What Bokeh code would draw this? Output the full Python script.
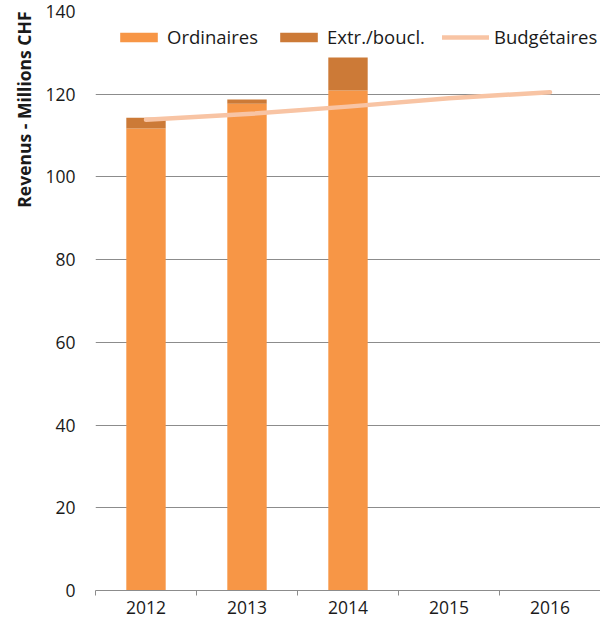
from bokeh.plotting import figure
from bokeh.models import Range1d, FixedTicker, Legend, LegendItem, Title
from bokeh.embed import file_html
from bokeh.resources import INLINE

years = ["2012", "2013", "2014", "2015", "2016"]
bar_years = ["2012", "2013", "2014"]
ordinaires = [111.7, 117.7, 120.9]
extr_boucl = [2.6, 1.0, 8.0]
budgetaires = [113.8, 115.2, 117.0, 119.0, 120.5]
y_ticks = [0, 20, 40, 60, 80, 100, 120, 140]

FONT = "Open Sans"
C_ORD = "#F79646"
C_EXT = "#CC7A37"
C_BUD = "#F8C4A4"
C_GRID = "#8C8C8C"
C_TXT = "#1a1a1a"

xpos = {y: i + 0.5 for i, y in enumerate(years)}
bx = [xpos[y] for y in bar_years]
lx = [xpos[y] for y in years]
ext_top = [o + e for o, e in zip(ordinaires, extr_boucl)]

p = figure(width=600, height=619, output_backend="svg", toolbar_location=None,
           x_range=Range1d(0, len(years)), y_range=Range1d(0, 140),
           min_border_left=95, min_border_right=0, min_border_top=11, min_border_bottom=29)
p.outline_line_color = None
p.background_fill_color = "white"

r1 = p.vbar(x=bx, bottom=0, top=ordinaires, width=0.39, fill_color=C_ORD, line_color=None)
r2 = p.vbar(x=bx, bottom=ordinaires, top=ext_top, width=0.39, fill_color=C_EXT, line_color=None)
r3 = p.line(x=lx, y=budgetaires, line_color=C_BUD, line_width=4.5, line_cap="round", line_join="round")

# x axis
xa = p.xaxis[0]
xa.ticker = FixedTicker(ticks=lx, minor_ticks=list(range(len(years) + 1)))
xa.major_label_overrides = {xpos[y]: y for y in years}
xa.major_tick_line_color = None
xa.major_tick_out = 0
xa.major_tick_in = 0
xa.minor_tick_out = 5
xa.minor_tick_in = 0
xa.minor_tick_line_color = C_GRID
xa.axis_line_color = C_GRID
xa.major_label_text_font = FONT
xa.major_label_text_font_size = "17.5px"
xa.major_label_text_color = C_TXT
xa.major_label_standoff = 5
p.xgrid.grid_line_color = None

# y axis
ya = p.yaxis[0]
ya.ticker = FixedTicker(ticks=y_ticks)
ya.axis_line_color = None
ya.major_tick_line_color = None
ya.major_tick_out = 0
ya.major_tick_in = 0
ya.minor_tick_line_color = None
ya.major_label_text_font = FONT
ya.major_label_text_font_size = "17.5px"
ya.major_label_text_color = C_TXT
ya.major_label_standoff = 20
p.ygrid.grid_line_color = C_GRID
p.ygrid.grid_line_width = 1

t = Title(text="Revenus - Millions CHF", align="right", text_font=FONT,
          text_font_style="bold", text_font_size="17.5px", text_color=C_TXT, standoff=14)
p.add_layout(t, "left")

legend = Legend(items=[LegendItem(label="Ordinaires", renderers=[r1]),
                       LegendItem(label="Extr./boucl.", renderers=[r2]),
                       LegendItem(label="Budgétaires", renderers=[r3])],
                orientation="horizontal", location=(20, 541),
                glyph_width=47, glyph_height=12, label_standoff=5, spacing=17,
                padding=0, margin=0, border_line_color=None, background_fill_alpha=0,
                label_text_font=FONT, label_text_font_size="18.5px", label_text_color=C_TXT)
p.add_layout(legend, "center")

open("out.html", "w").write(file_html(p, INLINE))
